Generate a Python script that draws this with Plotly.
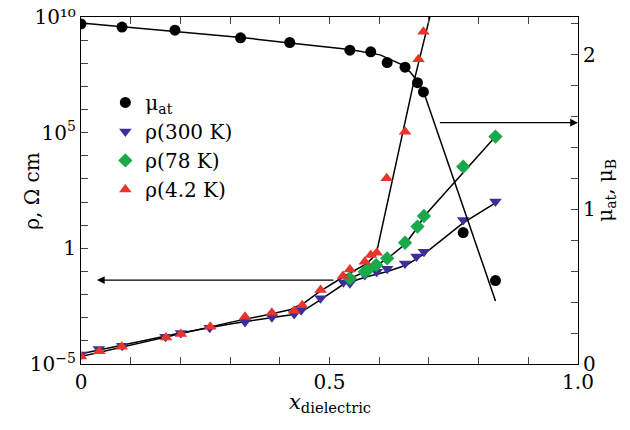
import plotly.graph_objects as go

# ---- data ----
mu_x = [0.0, 0.0825, 0.189, 0.321, 0.42, 0.541, 0.583, 0.616, 0.652, 0.677, 0.689, 0.769, 0.834]
mu_y = [2.20, 2.18, 2.16, 2.11, 2.08, 2.03, 2.02, 1.95, 1.92, 1.82, 1.76, 0.85, 0.54]
mu_fit_x = [0.0, 0.0825, 0.189, 0.322, 0.42, 0.541, 0.602, 0.642, 0.662, 0.678, 0.690, 0.834]
mu_fit_y = [2.206, 2.181, 2.152, 2.113, 2.077, 2.035, 2.0, 1.942, 1.890, 1.826, 1.755, 0.408]

r300_x = [0.0, 0.036, 0.083, 0.170, 0.201, 0.259, 0.330, 0.384, 0.429, 0.443, 0.482,
          0.528, 0.541, 0.571, 0.595, 0.616, 0.652, 0.675, 0.690, 0.769, 0.834]
r300_y = [2.6e-5, 4.4e-5, 6.2e-5, 1.5e-4, 2.2e-4, 3.7e-4, 6.6e-4, 1.05e-3, 1.45e-3, 2.1e-3, 6.9e-3,
          0.034, 0.031, 0.071, 0.098, 0.13, 0.22, 0.44, 0.71, 16.6, 105]
r300_fit_x = [0.0, 0.1, 0.2, 0.3, 0.38, 0.42, 0.45, 0.48, 0.528, 0.575, 0.615, 0.655, 0.690, 0.769, 0.834]
r300_fit_y = [2.75e-5, 7.9e-5, 2.2e-4, 5.4e-4, 1.0e-3, 1.32e-3, 2.2e-3, 5.6e-3, 0.028, 0.059, 0.098,
              0.19, 0.56, 12.6, 93]

r78_x = [0.541, 0.571, 0.578, 0.594, 0.616, 0.652, 0.677, 0.690, 0.769, 0.834]
r78_y = [0.050, 0.098, 0.123, 0.19, 0.37, 1.74, 8.7, 25, 3400, 6.8e4]
r78_fit_x = [0.528, 0.541, 0.571, 0.594, 0.616, 0.652, 0.677, 0.690, 0.834]
r78_fit_y = [0.032, 0.050, 0.095, 0.18, 0.35, 1.5, 7.9, 24, 6.8e4]

r4_x = [0.0, 0.037, 0.082, 0.171, 0.201, 0.260, 0.330, 0.384, 0.429, 0.445, 0.482, 0.527,
        0.541, 0.571, 0.583, 0.595, 0.615, 0.652, 0.679, 0.689]
r4_y = [2.1e-5, 3.6e-5, 5.6e-5, 1.4e-4, 2.0e-4, 4.1e-4, 1.1e-3, 1.66e-3, 2.0e-3, 3.5e-3, 0.0158, 0.063,
        0.123, 0.26, 0.51, 0.65, 1070, 1.1e5, 1.5e8, 2.3e9]
r4_fit_x = [0.0, 0.1, 0.2, 0.3, 0.38, 0.42, 0.45, 0.48, 0.528, 0.575, 0.594, 0.669, 0.703]
r4_fit_y = [2.1e-5, 6.6e-5, 2.0e-4, 6.3e-4, 1.41e-3, 2.2e-3, 4.5e-3, 0.0135, 0.059, 0.22, 0.56,
            1.35e7, 1.26e10]

x_ticks = [0.0, 0.1, 0.2, 0.3, 0.4, 0.5, 0.6, 0.7, 0.8, 0.9, 1.0]
x_ticktext = ["0", "", "", "", "", "0.5", "", "", "", "", "1.0"]
y_ticks = [10.0 ** k for k in range(-5, 11)]
y_ticktext = ["10<sup>\u22125</sup>", "", "", "", "", "1", "", "", "", "", "10<sup>5</sup>",
              "", "", "", "", "10\u00b9\u2070"]
y2_ticks = [0.0, 0.2, 0.4, 0.6, 0.8, 1.0, 1.2, 1.4, 1.6, 1.8, 2.0, 2.2]
y2_ticktext = ["0", "", "", "", "", "1", "", "", "", "", "2", ""]

BLUE = "#3d2f98"
GREEN = "#19a84a"
RED = "#e8342b"
FONT = "DejaVu Serif"

fig = go.Figure()
line = dict(color="black", width=1.5)

# fit lines
fig.add_trace(go.Scatter(x=r300_fit_x, y=r300_fit_y, mode="lines", line=line, showlegend=False))
fig.add_trace(go.Scatter(x=r78_fit_x, y=r78_fit_y, mode="lines", line=line, showlegend=False))
fig.add_trace(go.Scatter(x=r4_fit_x, y=r4_fit_y, mode="lines", line=line, showlegend=False))
fig.add_trace(go.Scatter(x=mu_fit_x, y=mu_fit_y, mode="lines", line=line, showlegend=False,
                         yaxis="y2"))

# data markers
fig.add_trace(go.Scatter(x=mu_x, y=mu_y, mode="markers", name="\u03bc<sub>at</sub>", yaxis="y2",
                         marker=dict(symbol="circle", size=11, color="black")))
fig.add_trace(go.Scatter(x=r300_x, y=r300_y, mode="markers", name="\u03c1(300 K)",
                         marker=dict(symbol="triangle-down", size=11, color=BLUE)))
fig.add_trace(go.Scatter(x=r78_x, y=r78_y, mode="markers", name="\u03c1(78 K)",
                         marker=dict(symbol="diamond", size=11, color=GREEN)))
fig.add_trace(go.Scatter(x=r4_x, y=r4_y, mode="markers", name="\u03c1(4.2 K)",
                         marker=dict(symbol="triangle-up", size=11, color=RED)))

# arrows
fig.add_annotation(x=0.032, y=-1.37, ax=0.511, ay=-1.37, xref="x", yref="y", axref="x", ayref="y",
                   showarrow=True, arrowhead=2, arrowsize=1.3, arrowwidth=1.2, arrowcolor="black",
                   text="")
fig.add_annotation(x=1.0, y=1.561, ax=0.719, ay=1.561, xref="x", yref="y2", axref="x", ayref="y2",
                   showarrow=True, arrowhead=2, arrowsize=1.3, arrowwidth=1.2, arrowcolor="black",
                   text="")

# axis titles
fig.add_annotation(x=0.5, y=-0.07, xref="paper", yref="paper", xanchor="center", yanchor="top",
                   text="<i>x</i><sub>dielectric</sub>", showarrow=False,
                   font=dict(family=FONT, size=21))
fig.add_annotation(x=-0.1, y=0.5, xref="paper", yref="paper", xanchor="center", yanchor="middle",
                   text="\u03c1, \u03a9 cm", showarrow=False, textangle=-90,
                   font=dict(family=FONT, size=20))
fig.add_annotation(x=1.055, y=0.5, xref="paper", yref="paper", xanchor="center", yanchor="middle",
                   text="\u03bc<sub>at</sub>, \u03bc<sub>B</sub>", showarrow=False, textangle=-90,
                   font=dict(family=FONT, size=20))

axis_common = dict(ticks="inside", ticklen=7, showline=True, linecolor="black", linewidth=1.2,
                   showgrid=False, zeroline=False, automargin=False, ticklabeloverflow="allow",
                   tickfont=dict(family=FONT, size=20, color="black"))

fig.update_layout(
    width=622, height=422,
    margin=dict(l=73, r=52, t=9, b=66),
    paper_bgcolor="white", plot_bgcolor="white",
    font=dict(family=FONT, size=20, color="black"),
    showlegend=True,
    legend=dict(x=0.049, y=0.81, xanchor="left", yanchor="top", bgcolor="rgba(0,0,0,0)",
                font=dict(family=FONT, size=20), tracegroupgap=0, itemwidth=30),
    xaxis=dict(range=[0, 1], tickvals=x_ticks, ticktext=x_ticktext, mirror="ticks", **axis_common),
    yaxis=dict(type="log", range=[-5, 10], tickvals=y_ticks, ticktext=y_ticktext, **axis_common),
    yaxis2=dict(overlaying="y", side="right", range=[0, 2.245], tickvals=y2_ticks,
                ticktext=y2_ticktext, **axis_common),
)

fig.write_html("out.html")
